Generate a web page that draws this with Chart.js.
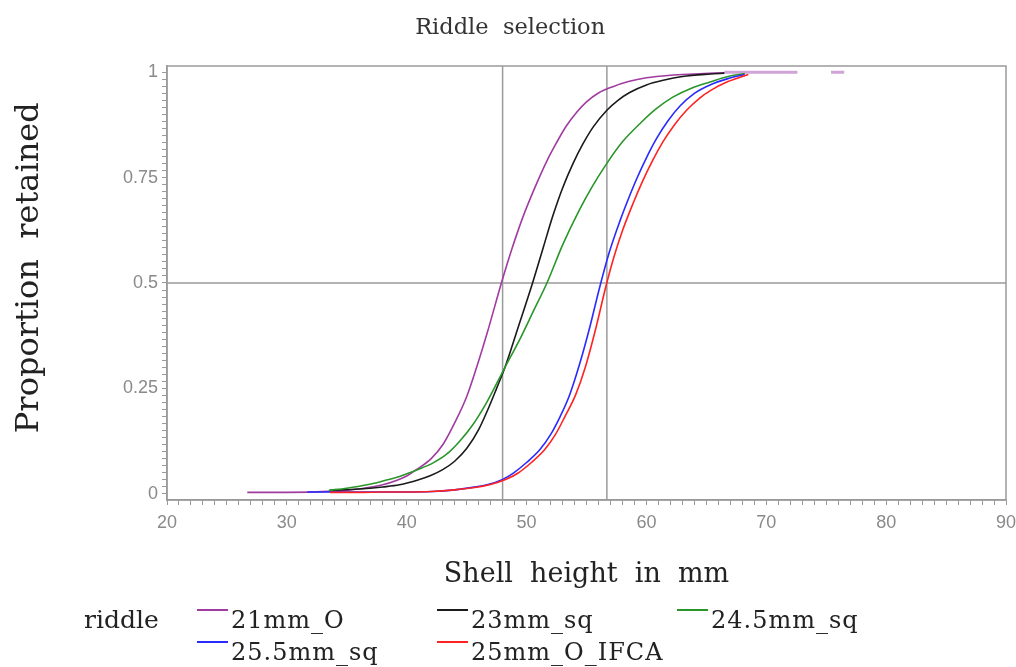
<!DOCTYPE html>
<html>
<head>
<meta charset="utf-8">
<script src="https://cdn.jsdelivr.net/npm/chart.js@4"></script>
<style>
  html, body { margin: 0; padding: 0; background: #fff; }
  #wrap { width: 1016px; height: 667px; }
</style>
</head>
<body>
<div id="wrap"><canvas id="myChart" width="1016" height="667"></canvas></div>
<script>
// series: shell height (mm) and proportion retained
var r21X = [26.7, 30, 33.9, 36, 38, 40, 40.8, 42, 43.05, 44, 45, 46, 46.7, 47.9, 48.8, 49.7, 50.7, 51.7, 52.5, 53.3, 54.2, 55, 56, 57.2, 58.5, 60, 62, 64, 66.5];
var r21Y = [0.003, 0.003, 0.006, 0.011, 0.021, 0.042, 0.057, 0.082, 0.118, 0.168, 0.23, 0.315, 0.38, 0.5, 0.583, 0.657, 0.727, 0.79, 0.833, 0.872, 0.906, 0.93, 0.951, 0.966, 0.978, 0.987, 0.993, 0.996, 0.999];

// pale stub of the 21mm_O line along the top
var r21TailX = [66.5, 72.6, 74, 75.4, 76.5];
var r21TailY = [1, 1, null, 1, 1];

var r23X = [33.6, 36, 38, 39.4, 41, 42, 43, 44, 45, 46, 46.7, 47.5, 48.2, 49.3, 50.5, 51.4, 52.2, 53, 53.9, 54.7, 55.55, 56.7, 57.6, 58.6, 60, 61.4, 63, 65.3, 66.5];
var r23Y = [0.008, 0.011, 0.016, 0.021, 0.033, 0.043, 0.057, 0.077, 0.107, 0.152, 0.195, 0.25, 0.3, 0.395, 0.5, 0.585, 0.66, 0.725, 0.785, 0.83, 0.87, 0.91, 0.933, 0.952, 0.97, 0.981, 0.99, 0.996, 0.998];

var r245X = [33.5, 35, 36.7, 38, 39.4, 41, 42.2, 43.3, 44.4, 45.5, 46.7, 48.2, 49.5, 50.6, 51.7, 53, 54.4, 55.5, 56.7, 58, 59.45, 60.8, 62.2, 63.8, 65.3, 66.8, 68.2];
var r245Y = [0.008, 0.013, 0.021, 0.03, 0.041, 0.058, 0.073, 0.093, 0.124, 0.163, 0.218, 0.3, 0.37, 0.435, 0.5, 0.59, 0.673, 0.73, 0.784, 0.835, 0.878, 0.913, 0.941, 0.963, 0.977, 0.99, 0.997];

var r255X = [31.7, 35, 38, 40, 42.2, 44, 45.5, 46.7, 48, 48.9, 50, 51.1, 52, 52.8, 53.6, 54.45, 55.3, 56.1, 56.9, 57.8, 58.5, 59.2, 60, 60.85, 61.8, 62.8, 64, 65.3, 66.8, 68.2];
var r255Y = [0.004, 0.004, 0.004, 0.004, 0.005, 0.009, 0.015, 0.021, 0.034, 0.049, 0.074, 0.104, 0.14, 0.183, 0.235, 0.31, 0.398, 0.49, 0.573, 0.648, 0.7, 0.748, 0.797, 0.843, 0.885, 0.92, 0.95, 0.97, 0.985, 0.995];

var r25X = [33.6, 36, 38, 40, 42, 44, 45.5, 47, 48.3, 49.3, 50.4, 51.5, 52.4, 53.2, 54.1, 54.9, 55.8, 56.6, 57.3, 58.05, 58.9, 59.7, 60.5, 61.4, 62.3, 63.35, 64.5, 65.3, 66.8, 68.5];
var r25Y = [0.003, 0.003, 0.004, 0.004, 0.005, 0.009, 0.014, 0.022, 0.034, 0.049, 0.074, 0.104, 0.14, 0.183, 0.235, 0.3, 0.395, 0.49, 0.563, 0.628, 0.69, 0.743, 0.79, 0.836, 0.874, 0.91, 0.94, 0.956, 0.978, 0.995];

var legendLabels = ['21mm_O', '23mm_sq', '24.5mm_sq', '25.5mm_sq', '25mm_O_IFCA'];

// reference lines
var refX = [48, 56.7];
var refY = [0.5];

var xTickLabels = [20, 30, 40, 50, 60, 70, 80, 90];
var yTickLabels = [0, 0.25, 0.5, 0.75, 1];

var X_MIN = 20, X_MAX = 90;
var Y_MIN = -0.015, Y_MAX = 1.015;

var SERIF = '"DejaVu Serif", serif';

function toPoints(xs, ys) {
	var pts = [];
	for (var i = 0; i < xs.length; i++) {
		pts.push({ x: xs[i], y: ys[i] });
	}
	return pts;
}

function curve(label, xs, ys, color) {
	return {
		label: label,
		data: toPoints(xs, ys),
		borderColor: color,
		backgroundColor: color,
		borderWidth: 1.6,
		pointRadius: 0,
		cubicInterpolationMode: 'monotone',
		fill: false
	};
}

var datasets = [
	curve(legendLabels[4], r25X, r25Y, '#ff2222'),
	curve(legendLabels[3], r255X, r255Y, '#2a2aff'),
	curve(legendLabels[2], r245X, r245Y, '#2a962a'),
	curve(legendLabels[1], r23X, r23Y, '#1a1a1a'),
	curve(legendLabels[0], r21X, r21Y, '#a03ca0'),
	{
		label: '_tail',
		data: toPoints(r21TailX, r21TailY),
		borderColor: 'rgba(170,90,180,0.55)',
		borderWidth: 3,
		pointRadius: 0,
		spanGaps: false
	}
];

refX.forEach(function(v) {
	datasets.push({
		label: '_ref',
		data: [{ x: v, y: Y_MIN }, { x: v, y: Y_MAX }],
		borderColor: '#9a9a9a',
		borderWidth: 1.5,
		pointRadius: 0
	});
});
refY.forEach(function(v) {
	datasets.push({
		label: '_ref',
		data: [{ x: X_MIN, y: v }, { x: X_MAX, y: v }],
		borderColor: '#9a9a9a',
		borderWidth: 1.5,
		pointRadius: 0
	});
});

var colorOf = {};
datasets.forEach(function(d) { colorOf[d.label] = d.borderColor; });

// box round the plot area
var framePlugin = {
	id: 'frame',
	afterDraw: function(chart) {
		var a = chart.chartArea;
		var ctx = chart.ctx;
		ctx.save();
		ctx.strokeStyle = '#9a9a9a';
		ctx.lineWidth = 1.5;
		ctx.strokeRect(a.left, a.top, a.right - a.left, a.bottom - a.top);
		ctx.restore();
	}
};

// SAS style legend: "riddle" then a 3 column grid
var legendPlugin = {
	id: 'riddleLegend',
	afterDraw: function(chart) {
		var ctx = chart.ctx;
		var colX = [197, 437, 677];
		var rowY = [628, 660];
		ctx.save();
		ctx.fillStyle = '#222';
		ctx.textBaseline = 'alphabetic';
		ctx.font = '25px ' + SERIF;
		ctx.fillText('riddle', 84, rowY[0]);
		ctx.font = '24px ' + SERIF;
		ctx.letterSpacing = '1px';
		for (var i = 0; i < legendLabels.length; i++) {
			var cx = colX[i % 3];
			var cy = rowY[Math.floor(i / 3)];
			ctx.strokeStyle = colorOf[legendLabels[i]];
			ctx.lineWidth = 2;
			ctx.beginPath();
			ctx.moveTo(cx, cy - 18);
			ctx.lineTo(cx + 31, cy - 18);
			ctx.stroke();
			ctx.fillStyle = '#222';
			ctx.fillText(legendLabels[i], cx + 34, cy);
		}
		ctx.restore();
	}
};

function minorTicks(min, max, step) {
	var out = [];
	var n = Math.round((max - min) / step);
	for (var i = 0; i <= n; i++) {
		out.push({ value: min + i * step });
	}
	return out;
}

function isMajor(v, list) {
	for (var i = 0; i < list.length; i++) {
		if (Math.abs(list[i] - v) < 1e-6) {
			return true;
		}
	}
	return false;
}

var tickFont = { family: '"Liberation Sans", sans-serif', size: 18 };

var ctx = document.getElementById('myChart').getContext('2d');
new Chart(ctx, {
	type: 'line',
	data: { datasets: datasets },
	plugins: [framePlugin, legendPlugin],
	options: {
		responsive: false,
		animation: false,
		layout: { padding: { left: 0, right: 10, top: 0, bottom: 75 } },
		plugins: {
			legend: { display: false },
			tooltip: { enabled: false },
			title: {
				display: true,
				text: '  Riddle  selection',
				color: '#333',
				font: { family: SERIF, size: 22.5, weight: 'normal' },
				padding: { top: 15, bottom: 24 }
			}
		},
		scales: {
			x: {
				type: 'linear',
				min: X_MIN,
				max: X_MAX,
				afterBuildTicks: function(scale) {
					scale.ticks = minorTicks(X_MIN, X_MAX, 1);
				},
				afterFit: function(scale) {
					scale.height = 92;
					scale.paddingLeft = 0;
					scale.paddingRight = 0;
				},
				ticks: {
					autoSkip: false,
					maxRotation: 0,
					color: '#8a8a8a',
					font: tickFont,
					padding: 7,
					callback: function(v) {
						return isMajor(v, xTickLabels) ? String(Math.round(v)) : '';
					}
				},
				grid: {
					drawOnChartArea: false,
					drawTicks: true,
					tickLength: 5,
					color: '#9a9a9a'
				},
				border: { display: true, color: '#9a9a9a', width: 1.5 },
				title: {
					display: true,
					text: 'Shell  height  in  mm',
					color: '#222',
					font: { family: SERIF, size: 27 },
					padding: { top: 0, bottom: 1 }
				}
			},
			y: {
				type: 'linear',
				min: Y_MIN,
				max: Y_MAX,
				afterBuildTicks: function(scale) {
					scale.ticks = minorTicks(0, 1, 0.25 / 15);
				},
				afterFit: function(scale) {
					scale.width = 167;
				},
				ticks: {
					autoSkip: false,
					color: '#8a8a8a',
					font: tickFont,
					padding: 4,
					callback: function(v) {
						return isMajor(v, yTickLabels) ? String(Math.round(v * 100) / 100) : '';
					}
				},
				grid: {
					drawOnChartArea: false,
					drawTicks: true,
					tickLength: 5,
					color: '#9a9a9a'
				},
				border: { display: true, color: '#9a9a9a', width: 1.5 },
				title: {
					display: true,
					text: '   Proportion  retained',
					color: '#222',
					font: { family: SERIF, size: 32 },
					padding: { top: 10, bottom: 0 }
				}
			}
		}
	}
});
</script>
</body>
</html>
